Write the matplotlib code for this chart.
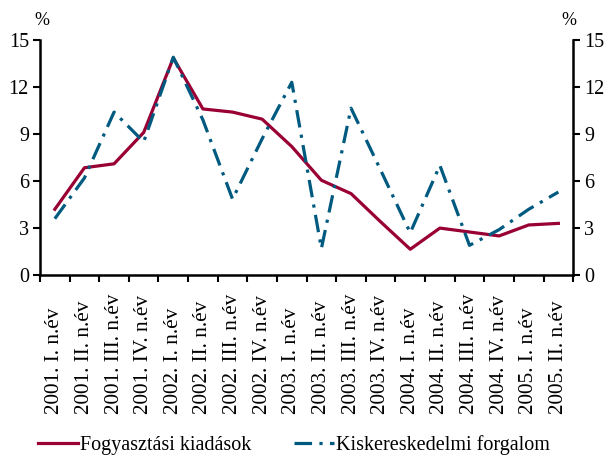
import numpy as np
import matplotlib.pyplot as plt

plt.rcParams['font.family'] = ['Liberation Serif', 'DejaVu Serif']

labels = ["2001. I. n.év", "2001. II. n.év", "2001. III. n.év", "2001. IV. n.év",
          "2002. I. n.év", "2002. II. n.év", "2002. III. n.év", "2002. IV. n.év",
          "2003. I. n.év", "2003. II. n.év", "2003. III. n.év", "2003. IV. n.év",
          "2004. I. n.év", "2004. II. n.év", "2004. III. n.év", "2004. IV. n.év",
          "2005. I. n.év", "2005. II. n.év"]
fogyasztas = [4.2, 6.85, 7.1, 9.1, 13.85, 10.6, 10.4, 9.95, 8.2, 6.05, 5.2, 3.4,
              1.65, 3.0, 2.75, 2.5, 3.2, 3.3]
kiskereskedelem = [3.6, 6.2, 10.4, 8.5, 13.9, 9.9, 4.85, 8.7, 12.3, 1.7, 10.65, 6.7,
                   2.7, 7.0, 1.9, 2.9, 4.2, 5.3]
yticks = [0, 3, 6, 9, 12, 15]

red = "#990033"
blue = "#005a80"

fig = plt.figure(figsize=(6.1, 4.57), dpi=100)
ax = fig.add_axes([0.0656, 0.398, 0.874, 0.5145])
x = np.arange(len(labels))

ax.plot(x, fogyasztas, color=red, lw=2.3, label="Fogyasztási kiadások")
ax.plot(x, kiskereskedelem, color=blue, lw=2.3, dashes=(5.5, 2.3, 1, 2.3),
        label="Kiskereskedelmi forgalom")

ax.set_xlim(-0.5, len(labels) - 0.5)
ax.set_ylim(0, 15)
ax.set_yticks(yticks)
ax.tick_params(axis='y', labelsize=14.5, width=1.5, length=5, pad=3,
               labelright=True, right=True)
ax.set_xticks(np.arange(len(labels) + 1) - 0.5)
ax.set_xticklabels([])
ax.set_xticks(x, minor=True)
ax.set_xticklabels(labels, minor=True, rotation=90, fontsize=15.3)
plt.setp(ax.get_xticklabels(minor=True), va='bottom')
ax.tick_params(axis='x', which='major', width=1.5, length=5)
ax.tick_params(axis='x', which='minor', length=0, pad=100)
ax.spines['top'].set_visible(False)
for s in ['left', 'right', 'bottom']:
    ax.spines[s].set_linewidth(1.8)

fig.text(0.068, 0.956, "%", fontsize=13, ha='center', va='center')
fig.text(0.932, 0.956, "%", fontsize=13, ha='center', va='center')

fig.legend(loc='center left', bbox_to_anchor=(0.062, 0.026), ncol=2, frameon=False,
           fontsize=14.5, handlelength=2.0, handletextpad=0.1, columnspacing=2.1,
           borderaxespad=0, borderpad=0)

fig.savefig("out.png", dpi=100)
